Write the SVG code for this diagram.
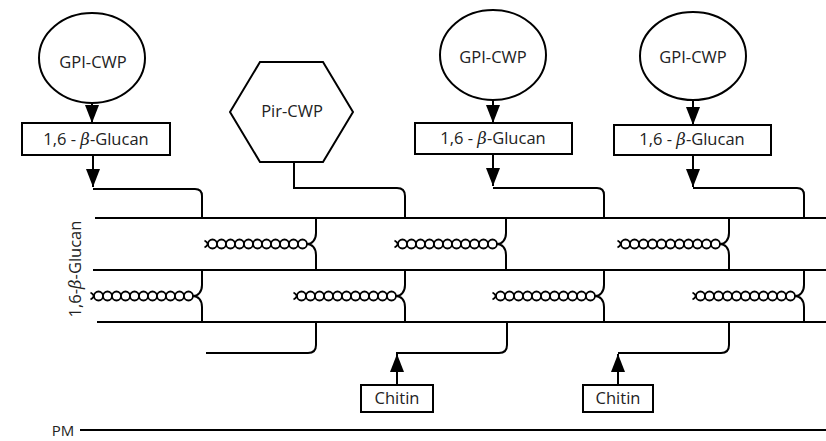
<svg xmlns="http://www.w3.org/2000/svg" xmlns:xlink="http://www.w3.org/1999/xlink" width="826" height="441" viewBox="0 0 826 441">
<style>
.shape{fill:#fff;stroke:#000;stroke-width:2}
.ln{fill:none;stroke:#000;stroke-width:2}
.coil{fill:none;stroke:#000;stroke-width:1.8}
.t{font-family:"Open Sans","DejaVu Sans",sans-serif;font-size:16.5px;fill:#222;text-anchor:middle}
.b{font-style:italic;font-family:"DejaVu Serif","Liberation Serif",serif}
</style>
<defs>
<marker id="ah" viewBox="0 0 18 14" refX="18" refY="7" markerWidth="18" markerHeight="14" markerUnits="userSpaceOnUse" orient="auto">
<path d="M0,0 L18,7 L0,14 z" fill="#000"/>
</marker>
<g id="coil">
<path class="ln" d="M0,0 V15 C0,22 -4,26 -9,26 C-4,26 0,30 0,37 V52"/>
<path class="coil" d="M-9,26 a4.5,4.5 0 0 0 -9,0 a4.5,4.5 0 0 0 -9,0 a4.5,4.5 0 0 0 -9,0 a4.5,4.5 0 0 0 -9,0 a4.5,4.5 0 0 0 -9,0 a4.5,4.5 0 0 0 -9,0 a4.5,4.5 0 0 0 -9,0 a4.5,4.5 0 0 0 -9,0 a4.5,4.5 0 0 0 -9,0 a4.5,4.5 0 0 0 -9,0 a4.5,4.5 0 0 0 -9,0 q-1.5,-2.5 -3.5,-3.5"/>
<path class="coil" d="M-9,26 a4.5,4.5 0 0 1 -9,0 a4.5,4.5 0 0 1 -9,0 a4.5,4.5 0 0 1 -9,0 a4.5,4.5 0 0 1 -9,0 a4.5,4.5 0 0 1 -9,0 a4.5,4.5 0 0 1 -9,0 a4.5,4.5 0 0 1 -9,0 a4.5,4.5 0 0 1 -9,0 a4.5,4.5 0 0 1 -9,0 a4.5,4.5 0 0 1 -9,0 a4.5,4.5 0 0 1 -9,0 q-1.5,2.5 -3.5,3.5"/>
</g>
</defs>
<rect width="826" height="441" fill="#fff"/>

<g id="connectors">
<path class="ln" d="M95,218 H826 M93,270 H826 M97,322 H826"/>
<path class="ln" d="M80,430 H826"/>
<path class="ln" d="M92,103 V123" marker-end="url(#ah)"/>
<path class="ln" d="M493,100 V123" marker-end="url(#ah)"/>
<path class="ln" d="M693,100 V125" marker-end="url(#ah)"/>
<path class="ln" d="M93,155 V187" marker-end="url(#ah)"/>
<path class="ln" d="M493,154 V186" marker-end="url(#ah)"/>
<path class="ln" d="M693,155 V187" marker-end="url(#ah)"/>
<path class="ln" d="M93,189 H195 Q202,189 202,196 V218"/>
<path class="ln" d="M294,162 V188 H397 Q405,188 405,196 V218"/>
<path class="ln" d="M493,188 H597 Q604,188 604,195 V218"/>
<path class="ln" d="M693,188 H797 Q804,188 804,195 V218"/>
<use xlink:href="#coil" href="#coil" x="316" y="218"/>
<use xlink:href="#coil" href="#coil" x="506" y="218"/>
<use xlink:href="#coil" href="#coil" x="729" y="218"/>
<use xlink:href="#coil" href="#coil" x="202" y="270"/>
<use xlink:href="#coil" href="#coil" x="405" y="270"/>
<use xlink:href="#coil" href="#coil" x="604" y="270"/>
<use xlink:href="#coil" href="#coil" x="804" y="270"/>
<path class="ln" d="M316,322 V345 Q316,353 308,353 H206"/>
<path class="ln" d="M507,322 V345 Q507,353 499,353 H396"/>
<path class="ln" d="M729,322 V345 Q729,353 721,353 H618"/>
<path class="ln" d="M397,385 V354" marker-end="url(#ah)"/>
<path class="ln" d="M618,385 V354" marker-end="url(#ah)"/>
</g>

<g id="gpi1">
<ellipse class="shape" cx="92" cy="58" rx="53" ry="45"/>
<text class="t" x="93" y="68">GPI-CWP</text>
</g>
<g id="glucan1">
<rect class="shape" x="22" y="123" width="148" height="32"/>
<text class="t" x="96" y="145">1,6 - <tspan class="b">β</tspan>-Glucan</text>
</g>
<g id="pir">
<polygon class="shape" points="230,112 260,62 323,62 353,112 323,162 260,162"/>
<text class="t" x="292" y="117">Pir-CWP</text>
</g>
<g id="gpi2">
<ellipse class="shape" cx="493" cy="55" rx="53" ry="45"/>
<text class="t" x="493" y="63">GPI-CWP</text>
</g>
<g id="glucan2">
<rect class="shape" x="415" y="123" width="157" height="31"/>
<text class="t" x="493" y="144">1,6 - <tspan class="b">β</tspan>-Glucan</text>
</g>
<g id="gpi3">
<ellipse class="shape" cx="693" cy="56" rx="53" ry="44"/>
<text class="t" x="693" y="63">GPI-CWP</text>
</g>
<g id="glucan3">
<rect class="shape" x="614" y="125" width="157" height="30"/>
<text class="t" x="692" y="145">1,6 - <tspan class="b">β</tspan>-Glucan</text>
</g>
<g id="chitin1">
<rect class="shape" x="361" y="385" width="72" height="27"/>
<text class="t" x="397" y="404">Chitin</text>
</g>
<g id="chitin2">
<rect class="shape" x="583" y="385" width="70" height="27"/>
<text class="t" x="618" y="404">Chitin</text>
</g>
<g id="labels">
<text class="t" x="63" y="436" style="font-size:15px">PM</text>
<text class="t" transform="translate(81,269) rotate(-90)">1,6-<tspan class="b">β</tspan>-Glucan</text>
</g>
</svg>
